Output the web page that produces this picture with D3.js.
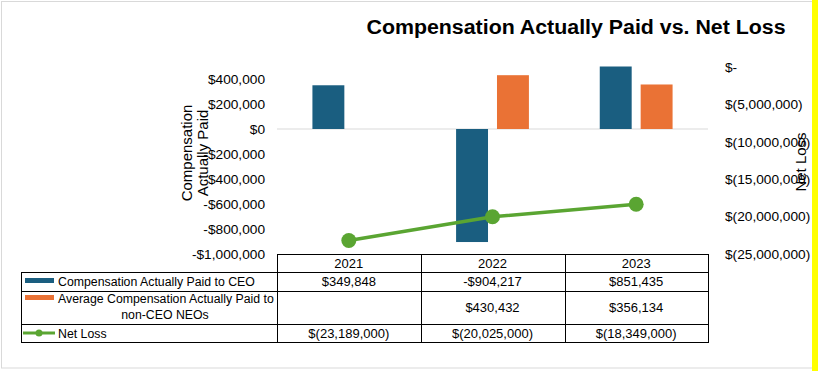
<!DOCTYPE html>
<html><head><meta charset="utf-8">
<script src="https://cdn.jsdelivr.net/npm/d3@7"></script>
<style>
html,body{margin:0;padding:0;background:#fff;}
svg{display:block;font-family:"Liberation Sans",Arial,sans-serif;}
</style></head>
<body>
<svg id="chart" width="824" height="371"></svg>
<script>
// ---- data ----
const categories = ["2021", "2022", "2023"];
const seriesNames = ["Compensation Actually Paid to CEO", "Average Compensation Actually Paid to non-CEO NEOs", "Net Loss"];
const ceoValues = [349848, -904217, 851435];
const neoValues = [null, 430432, 356134];
const netLossValues = [-23189000, -20025000, -18349000];
const leftTicks = [400000, 200000, 0, -200000, -400000, -600000, -800000, -1000000];
const rightTicks = [0, -5000000, -10000000, -15000000, -20000000, -25000000];
const ceoLabels = ["$349,848", "-$904,217", "$851,435"];
const neoLabels = ["", "$430,432", "$356,134"];
const netLossLabels = ["$(23,189,000)", "$(20,025,000)", "$(18,349,000)"];

const colors = {ceo: "#1a5e80", neo: "#ea7235", net: "#5aa532"};

const svg = d3.select("#chart");

// frame
svg.append("rect").attr("x", 1.5).attr("y", 1.5).attr("width", 816).attr("height", 366.5)
  .attr("fill", "none").attr("stroke", "#d9d9d9").attr("stroke-width", 1);
svg.append("rect").attr("x", 812).attr("y", 0).attr("width", 6).attr("height", 371).attr("fill", "#ffff00");

// scales
const x = d3.scaleBand().domain(categories).range([277, 708]).padding(0);
const xSub = d3.scaleBand().domain(["ceo", "neo"]).range([0, x.bandwidth()])
  .paddingInner(9 / 41).paddingOuter(0.866);
const yL = d3.scaleLinear().domain([-1000000, 500000]).range([254, 66.5]).clamp(true);
const yR = d3.scaleLinear().domain([-25000000, 0]).range([254, 67]);

// title
svg.append("text").attr("x", 576).attr("y", 34).attr("text-anchor", "middle")
  .attr("font-size", 20).attr("font-weight", "bold").attr("fill", "#000")
  .attr("textLength", 419).attr("lengthAdjust", "spacingAndGlyphs")
  .text("Compensation Actually Paid vs. Net Loss");

// left axis
const fmtL = v => (v < 0 ? "-$" : "$") + d3.format(",")(Math.abs(v));
const axL = d3.axisLeft(yL).tickValues(leftTicks).tickFormat(fmtL).tickSize(0).tickPadding(0);
const gL = svg.append("g").attr("transform", "translate(265,0)").call(axL);
gL.select(".domain").remove();
gL.selectAll("text").attr("font-size", 13.7).attr("fill", "#000").attr("font-family", "Liberation Sans, Arial, sans-serif");

// right axis
const fmtR = v => v === 0 ? "$-" : "$(" + d3.format(",")(Math.abs(v)) + ")";
const axR = d3.axisRight(yR).tickValues(rightTicks).tickFormat(fmtR).tickSize(0).tickPadding(0);
const gR = svg.append("g").attr("transform", "translate(725,0)").call(axR);
gR.select(".domain").remove();
gR.selectAll("text").attr("font-size", 13.7).attr("fill", "#000").attr("font-family", "Liberation Sans, Arial, sans-serif");

// axis titles
const lt = svg.append("text").attr("transform", "translate(192,153) rotate(-90)")
  .attr("text-anchor", "middle").attr("font-size", 15).attr("fill", "#000");
lt.append("tspan").attr("x", 0).attr("dy", 0).text("Compensation");
lt.append("tspan").attr("x", 0).attr("dy", 16).text("Actually Paid");
svg.append("text").attr("transform", "translate(806,162) rotate(-90)")
  .attr("text-anchor", "middle").attr("font-size", 15).attr("fill", "#000").text("Net Loss");

// zero line
svg.append("line").attr("x1", 277).attr("x2", 708).attr("y1", yL(0)).attr("y2", yL(0))
  .attr("stroke", "#d9d9d9").attr("stroke-width", 1);

// bars
const barData = [];
categories.forEach((c, i) => {
  if (ceoValues[i] != null) barData.push({c, k: "ceo", v: ceoValues[i]});
  if (neoValues[i] != null) barData.push({c, k: "neo", v: neoValues[i]});
});
svg.append("g").selectAll("rect").data(barData).join("rect")
  .attr("x", d => x(d.c) + xSub(d.k))
  .attr("width", xSub.bandwidth())
  .attr("y", d => Math.min(yL(d.v), yL(0)))
  .attr("height", d => Math.abs(yL(d.v) - yL(0)))
  .attr("fill", d => colors[d.k]);

// net loss line
const pts = categories.map((c, i) => [x(c) + x.bandwidth() / 2, yR(netLossValues[i])]);
svg.append("path").attr("d", d3.line()(pts)).attr("fill", "none")
  .attr("stroke", colors.net).attr("stroke-width", 3.5);
svg.append("g").selectAll("circle").data(pts).join("circle")
  .attr("cx", d => d[0]).attr("cy", d => d[1]).attr("r", 7.5).attr("fill", colors.net);

// data table
const rows = [254, 272, 291, 324, 342];
const tLeft = 21;
const tb = svg.append("g").attr("stroke", "#000").attr("stroke-width", 1).attr("fill", "none");
tb.append("line").attr("x1", 277).attr("x2", 708).attr("y1", rows[0] + 0.5).attr("y2", rows[0] + 0.5);
rows.slice(1).forEach(r => tb.append("line").attr("x1", tLeft).attr("x2", 708).attr("y1", r + 0.5).attr("y2", r + 0.5));
tb.append("line").attr("x1", tLeft + 0.5).attr("x2", tLeft + 0.5).attr("y1", rows[1]).attr("y2", rows[4] + 1);
[277, 420.5, 564.5, 708].forEach(xx => {
  const xv = Math.round(xx) + 0.5;
  tb.append("line").attr("x1", xv).attr("x2", xv).attr("y1", rows[0]).attr("y2", rows[4] + 1);
});

const cellText = (tx, ty, s, anchor, size) => svg.append("text").attr("x", tx).attr("y", ty)
  .attr("text-anchor", anchor || "middle").attr("font-size", size || 13).attr("fill", "#000").text(s);

categories.forEach((c, i) => {
  const cx = x(c) + x.bandwidth() / 2;
  cellText(cx, 268, c);
  cellText(cx, 286, ceoLabels[i]);
  cellText(cx, 312, neoLabels[i]);
  cellText(cx, 338, netLossLabels[i]);
});

// legend keys in table
const lf = 12.3;
svg.append("rect").attr("x", 25).attr("y", 278).attr("width", 29).attr("height", 5).attr("fill", colors.ceo);
cellText(58, 286, seriesNames[0], "start", lf);
svg.append("rect").attr("x", 25).attr("y", 295).attr("width", 29).attr("height", 5).attr("fill", colors.neo);
cellText(58, 303, "Average Compensation Actually Paid to", "start", lf);
cellText(165, 319, "non-CEO NEOs", "middle", lf);
svg.append("line").attr("x1", 23).attr("x2", 55).attr("y1", 333).attr("y2", 333)
  .attr("stroke", colors.net).attr("stroke-width", 3);
svg.append("circle").attr("cx", 39).attr("cy", 333).attr("r", 3.5).attr("fill", colors.net);
cellText(58, 338, seriesNames[2], "start", lf);
</script>
</body></html>
